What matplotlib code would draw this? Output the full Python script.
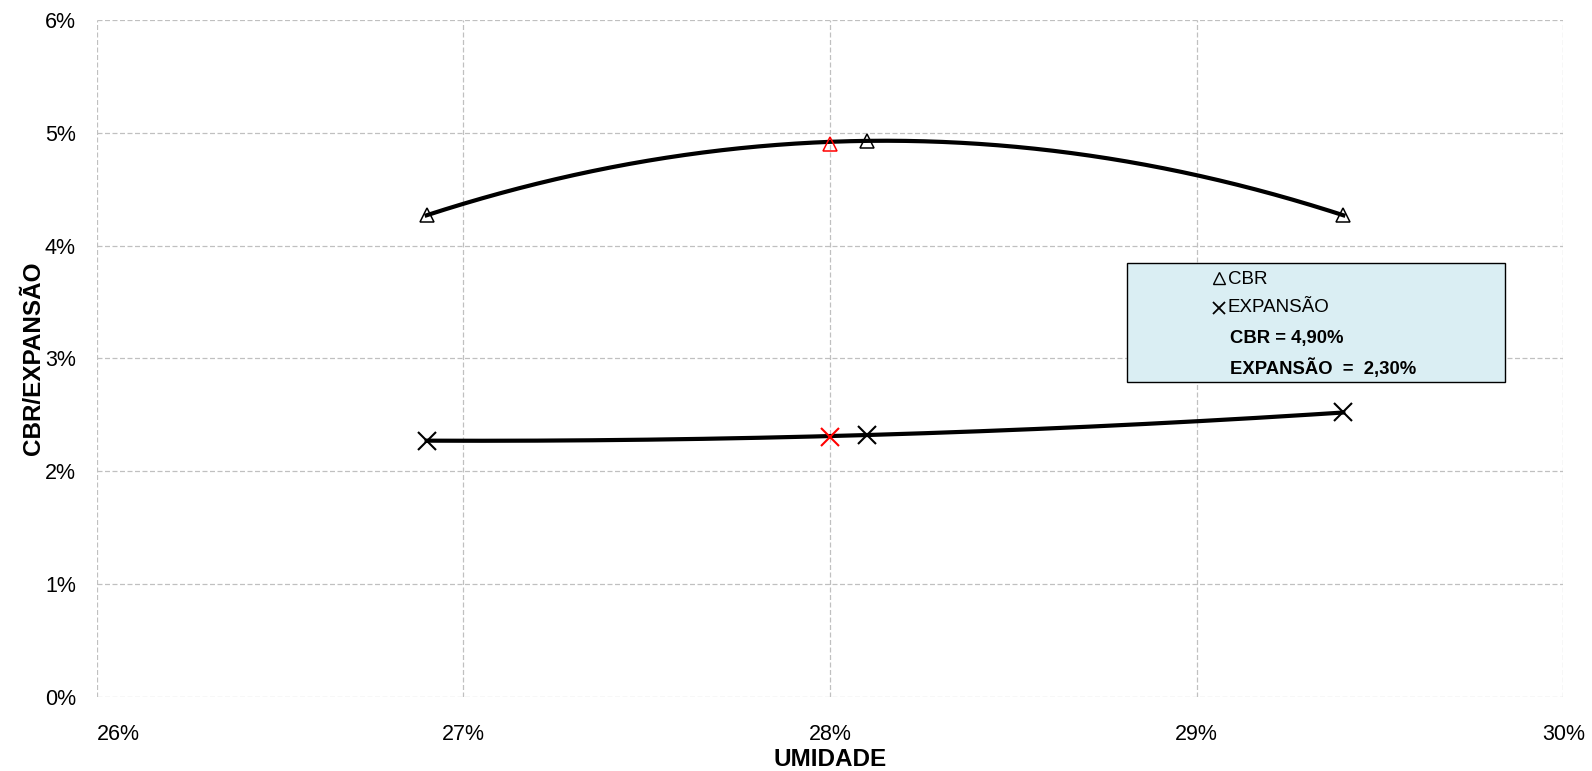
import matplotlib
matplotlib.use("Agg")
import matplotlib.pyplot as plt
from matplotlib.patches import Rectangle
from matplotlib.lines import Line2D
from matplotlib.ticker import FuncFormatter
import numpy as np

plt.rcParams['font.family'] = ['Liberation Sans', 'DejaVu Sans']

# ensaio CBR (valores em %)
umidade = [26.9, 28.1, 29.4]
cbr = [4.27, 4.93, 4.27]
expansao = [2.27, 2.32, 2.52]

# ponto na umidade otima
umidade_otima = 28.0
cbr_otimo = 4.90
expansao_otima = 2.30

x_ticks = [26, 27, 28, 29, 30]
y_ticks = [0, 1, 2, 3, 4, 5, 6]

fig = plt.figure(figsize=(15.92, 7.71), dpi=100)
ax = fig.add_axes([0.0607, 0.0966, 0.9213, 0.8771])

# linhas de tendencia polinomiais (ordem 2)
xs = np.linspace(min(umidade), max(umidade), 200)
for serie in (cbr, expansao):
    coef = np.polyfit(umidade, serie, 2)
    ax.plot(xs, np.polyval(coef, xs), color='black', lw=3, zorder=3)

ax.plot(umidade, cbr, ls='none', marker='^', ms=10, mfc='none', mec='black', mew=1.1, zorder=4)
ax.plot(umidade, expansao, ls='none', marker='x', ms=13, mec='black', mew=1.5, zorder=4)
ax.plot([umidade_otima], [cbr_otimo], ls='none', marker='^', ms=10, mfc='none', mec='red', mew=1.1, zorder=4)
ax.plot([umidade_otima], [expansao_otima], ls='none', marker='x', ms=13, mec='red', mew=1.5, zorder=4)

ax.set_xlim(x_ticks[0], x_ticks[-1])
ax.set_ylim(y_ticks[0], y_ticks[-1])
ax.set_xticks(x_ticks)
ax.set_yticks(y_ticks)
pct = FuncFormatter(lambda v, p: f"{v:.0f}%")
ax.xaxis.set_major_formatter(pct)
ax.yaxis.set_major_formatter(pct)
ax.tick_params(length=0, labelsize=15.5, colors='black')
ax.tick_params(axis='x', pad=20)
ax.tick_params(axis='y', pad=15)
ax.get_xticklabels()[0].set_horizontalalignment('left')
for s in ax.spines.values():
    s.set_visible(False)
ax.grid(True, color='#c0c0c0', ls=(0, (4, 2)), lw=0.9)
ax.set_axisbelow(True)

ax.set_xlabel('UMIDADE', fontsize=17.5, fontweight='bold', labelpad=2)
ax.set_ylabel('CBR/EXPANSÃO', fontsize=17.5, fontweight='bold', labelpad=0)

# caixa de legenda
ax.add_patch(Rectangle((28.81, 2.79), 1.03, 1.06, facecolor='#daeef3', edgecolor='black',
                       lw=1, zorder=5))
ax.add_line(Line2D([29.06], [3.71], ls='none', marker='^', ms=8, mfc='none', mec='black',
                   mew=1.0, zorder=6))
ax.add_line(Line2D([29.06], [3.45], ls='none', marker='x', ms=8, mec='black', mew=1.3, zorder=6))
ax.text(29.085, 3.70, 'CBR', fontsize=13.5, va='center', zorder=6)
ax.text(29.085, 3.45, 'EXPANSÃO', fontsize=13.5, va='center', zorder=6)
ax.text(29.09, 3.18, f'CBR = {cbr_otimo:.2f}%'.replace('.', ','), fontsize=13.3,
        fontweight='bold', va='center', zorder=6)
ax.text(29.09, 2.91, f'EXPANSÃO  =  {expansao_otima:.2f}%'.replace('.', ','), fontsize=13.3,
        fontweight='bold', va='center', zorder=6)

fig.savefig('out.png', dpi=100)
